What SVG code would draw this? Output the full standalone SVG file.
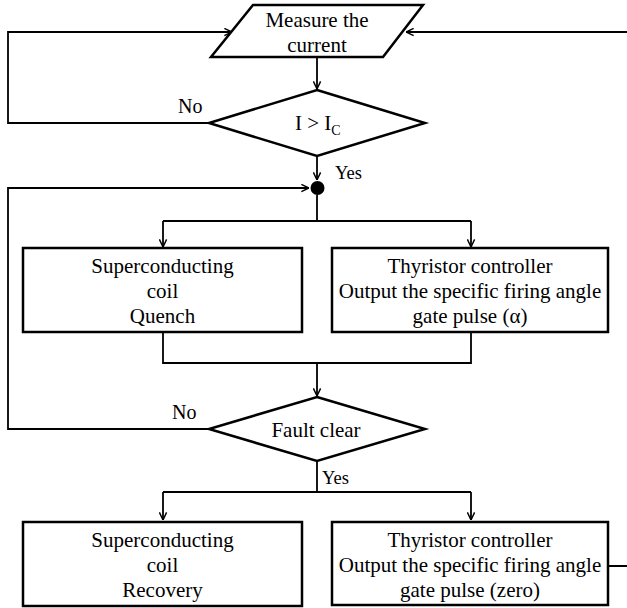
<svg xmlns="http://www.w3.org/2000/svg" width="627" height="608" viewBox="0 0 627 608">
<defs>
<marker id="arr" viewBox="0 0 10 10" refX="9.5" refY="5" markerWidth="9" markerHeight="9" markerUnits="userSpaceOnUse" orient="auto">
<path d="M1,1 L9.5,5 L1,9" fill="none" stroke="#000" stroke-width="1.6"/>
</marker>
<style>
.shape{fill:#fff;stroke:#000;stroke-width:2.5;stroke-linejoin:miter}
.conn{fill:none;stroke:#000;stroke-width:1.8}
text{font-family:'Liberation Serif','Times New Roman',Times,'DejaVu Serif',serif;fill:#000}
.t{font-size:21px;text-anchor:middle}
</style>
</defs>
<g id="connectors">
<path class="conn" d="M317,57 V89" marker-end="url(#arr)"/>
<path class="conn" d="M209,123 H8 V32 H232" marker-end="url(#arr)"/>
<path class="conn" d="M317,156 V180" marker-end="url(#arr)"/>
<path class="conn" d="M317,195 V221 M163,221 H471"/>
<path class="conn" d="M163,221 V247" marker-end="url(#arr)"/>
<path class="conn" d="M471,221 V247" marker-end="url(#arr)"/>
<path class="conn" d="M163,332 V363 H471 V332"/>
<path class="conn" d="M317,363 V396" marker-end="url(#arr)"/>
<path class="conn" d="M208,429 H8 V188 H309" marker-end="url(#arr)"/>
<path class="conn" d="M317,461 V492 M163,492 H471"/>
<path class="conn" d="M163,492 V520" marker-end="url(#arr)"/>
<path class="conn" d="M471,492 V520" marker-end="url(#arr)"/>
<path class="conn" d="M608,566 H628 V32 H406" marker-end="url(#arr)"/>
</g>
<g id="junction">
<circle cx="317.5" cy="188" r="7" fill="#000"/>
</g>
<g id="measure">
<polygon class="shape" points="253,5 423,5 383,57 211,57"/>
<text class="t" x="317" y="27" font-family="Liberation Serif, Times New Roman, serif">Measure the</text>
<text class="t" x="317" y="52" font-family="Liberation Serif, Times New Roman, serif">current</text>
</g>
<g id="decision1">
<polygon class="shape" points="317,90 425,123 317,156 209,123"/>
<text x="295" y="129.5" font-size="21">I &gt; I<tspan font-size="14" dy="5">C</tspan></text>
</g>
<g id="quench">
<rect class="shape" x="23" y="248" width="279" height="84"/>
<text class="t" x="162.5" y="273">Superconducting</text>
<text class="t" x="162.5" y="298">coil</text>
<text class="t" x="162.5" y="323">Quench</text>
</g>
<g id="thyristor1">
<rect class="shape" x="332" y="248" width="276" height="84"/>
<text class="t" x="470" y="273">Thyristor controller</text>
<text class="t" x="470" y="298">Output the specific firing angle</text>
<text class="t" x="470" y="323">gate pulse (α)</text>
</g>
<g id="decision2">
<polygon class="shape" points="317,397 425,429 317,461 209,429"/>
<text class="t" x="316" y="437">Fault clear</text>
</g>
<g id="recovery">
<rect class="shape" x="23" y="522" width="279" height="84"/>
<text class="t" x="162.5" y="547">Superconducting</text>
<text class="t" x="162.5" y="572">coil</text>
<text class="t" x="162.5" y="596.5">Recovery</text>
</g>
<g id="thyristor2">
<rect class="shape" x="332" y="522" width="276" height="83"/>
<text class="t" x="470" y="547">Thyristor controller</text>
<text class="t" x="470" y="572">Output the specific firing angle</text>
<text class="t" x="470" y="596.5">gate pulse (zero)</text>
</g>
<g id="labels">
<text x="178" y="113" font-size="20">No</text>
<text x="335" y="179" font-size="18.5">Yes</text>
<text x="172" y="419" font-size="20">No</text>
<text x="322" y="484" font-size="18.5">Yes</text>
</g>
</svg>
